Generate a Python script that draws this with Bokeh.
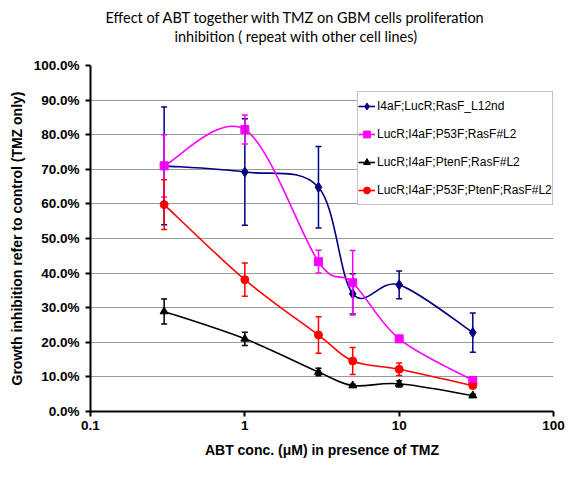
import numpy as np
from bokeh.plotting import figure
from bokeh.models import (ColumnDataSource, Whisker, TeeHead, Legend, LegendItem,
                          FixedTicker, NumeralTickFormatter, Range1d, Title)
from bokeh.embed import file_html
from bokeh.resources import INLINE

# ---------------- data ----------------
conc = [0.3, 1, 3, 5, 10, 30]

names = ["I4aF;LucR;RasF_L12nd",
         "LucR;I4aF;P53F;RasF#L2",
         "LucR;I4aF;PtenF;RasF#L2",
         "LucR;I4aF;P53F;PtenF;RasF#L2"]

s1_mean = [0.710, 0.692, 0.648, 0.340, 0.366, 0.228]
s1_err = [0.170, 0.154, 0.118, 0.058, 0.040, 0.057]

s2_mean = [0.710, 0.815, 0.433, 0.372, 0.210, 0.090]
s2_err = [0.090, 0.042, 0.033, 0.093, 0.005, 0.005]

s3_mean = [0.289, 0.210, 0.114, 0.075, 0.080, 0.046]
s3_err = [0.036, 0.019, 0.011, 0.004, 0.009, 0.004]

s4_mean = [0.598, 0.381, 0.221, 0.146, 0.122, 0.075]
s4_err = [0.072, 0.048, 0.053, 0.039, 0.018, 0.004]

title_lines = ["Effect of ABT together with TMZ on GBM cells proliferation",
               "inhibition ( repeat with other cell lines)"]
x_title = "ABT conc. (\u03bcM) in presence of TMZ"
y_title = "Growth inhibition refer to control (TMZ only)"

colors = ["#000080", "#FF00FF", "#000000", "#FF0000"]
markers = ["diamond", "square", "triangle", "circle"]
msizes = [10, 8, 8, 8]

y_ticks = [i / 10 for i in range(11)]
x_ticks = [0.1, 1, 10, 100]
x_labels = ["0.1", "1", "10", "100"]


def smooth_cols(xs, ys):
    """Excel-style smoothed line: cubic Bezier control points (Catmull-Rom, 1/6)
    computed in (log10 x, y) space."""
    lx = np.log10(np.asarray(xs, dtype=float))
    y = np.asarray(ys, dtype=float)
    n = len(lx)
    d = {k: [] for k in ["x0", "y0", "x1", "y1", "cx0", "cy0", "cx1", "cy1"]}
    for i in range(n - 1):
        pm = i - 1 if i > 0 else i
        pp = i + 2 if i + 2 < n else i + 1
        d["x0"].append(10 ** lx[i]); d["y0"].append(y[i])
        d["x1"].append(10 ** lx[i + 1]); d["y1"].append(y[i + 1])
        d["cx0"].append(10 ** (lx[i] + (lx[i + 1] - lx[pm]) / 6))
        d["cy0"].append(y[i] + (y[i + 1] - y[pm]) / 6)
        d["cx1"].append(10 ** (lx[i + 1] - (lx[pp] - lx[i]) / 6))
        d["cy1"].append(y[i + 1] - (y[pp] - y[i]) / 6)
    return d


p = figure(width=566, height=462, x_axis_type="log",
           x_range=Range1d(0.1, 100), y_range=Range1d(0, 1),
           output_backend="svg", toolbar_location=None,
           min_border_left=90, min_border_right=13,
           min_border_top=65, min_border_bottom=51)
p.title.visible = False
p.outline_line_color = None
p.background_fill_color = "white"

# two-line chart title: a thin spacer next to the frame, then line 2, then line 1
spacer = Title(text=" ", text_font_size="1px", standoff=18)
t2 = Title(text=title_lines[1], align="left", offset=84, standoff=0,
           text_font="Lato", text_font_size="14.5px", text_font_style="normal",
           text_color="black")
t1 = Title(text=title_lines[0], align="left", offset=15, standoff=0,
           text_font="Lato", text_font_size="14.5px", text_font_style="normal",
           text_color="black")
p.add_layout(spacer, "above")
p.add_layout(t2, "above")
p.add_layout(t1, "above")

# axes
p.xaxis.ticker = FixedTicker(ticks=x_ticks, minor_ticks=[])
p.xaxis.major_label_overrides = dict(zip(x_ticks, x_labels))
p.yaxis.ticker = FixedTicker(ticks=y_ticks, minor_ticks=[])
p.yaxis.formatter = NumeralTickFormatter(format="0.0%")
for ax in (p.xaxis, p.yaxis):
    ax.axis_line_width = 2
    ax.axis_line_color = "black"
    ax.major_tick_line_width = 2
    ax.major_tick_line_color = "black"
    ax.major_tick_out = 5
    ax.major_tick_in = 0
    ax.minor_tick_line_color = None
    ax.major_label_text_font = "Liberation Sans"
    ax.major_label_text_font_size = "13.5px"
    ax.major_label_text_font_style = "bold"
    ax.major_label_text_color = "black"
    ax.axis_label_text_font = "Liberation Sans"
    ax.axis_label_text_font_size = "14px"
    ax.axis_label_text_font_style = "bold"
    ax.axis_label_text_color = "black"
p.xaxis.axis_label = x_title
p.yaxis.axis_label = y_title
p.xaxis.major_label_standoff = 4
p.xaxis.axis_label_standoff = 9
p.yaxis.major_label_standoff = 6
p.yaxis.axis_label_standoff = 6

p.xgrid.visible = False
p.ygrid.ticker = FixedTicker(ticks=y_ticks[1:-1])
p.ygrid.grid_line_color = "#9a9a9a"
p.ygrid.grid_line_width = 1

items = []
all_means = [s1_mean, s2_mean, s3_mean, s4_mean]
all_errs = [s1_err, s2_err, s3_err, s4_err]
for name, m, e, c, mk, ms in zip(names, all_means, all_errs, colors, markers, msizes):
    src = ColumnDataSource(dict(x=conc, y=m,
                                upper=[a + b for a, b in zip(m, e)],
                                lower=[a - b for a, b in zip(m, e)]))
    w = Whisker(base="x", upper="upper", lower="lower", source=src,
                line_color=c, line_width=1.5, level="glyph",
                upper_head=TeeHead(size=6, line_color=c, line_width=1.5),
                lower_head=TeeHead(size=6, line_color=c, line_width=1.5))
    p.add_layout(w)
    bsrc = ColumnDataSource(smooth_cols(conc, m))
    br = p.bezier(x0="x0", y0="y0", x1="x1", y1="y1", cx0="cx0", cy0="cy0",
                  cx1="cx1", cy1="cy1", source=bsrc, line_color=c, line_width=1.6)
    sr = p.scatter(x="x", y="y", source=src, marker=mk, size=ms,
                   fill_color=c, line_color=c)
    items.append(LegendItem(label=name, renderers=[br, sr]))

legend = Legend(items=items, location=(267, 206), padding=0, margin=0,
                spacing=0, glyph_width=17, glyph_height=28, label_height=28,
                label_standoff=2, border_line_color="#888888", border_line_width=1,
                background_fill_color="white", background_fill_alpha=1,
                label_text_font="Liberation Sans", label_text_font_size="12px",
                label_text_color="black")
p.add_layout(legend, "center")

open("out.html", "w").write(file_html(p, INLINE))
